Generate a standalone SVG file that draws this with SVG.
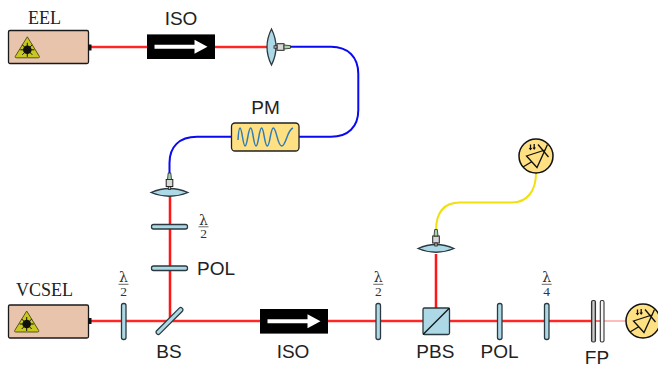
<svg xmlns="http://www.w3.org/2000/svg" width="658" height="366" viewBox="0 0 658 366">
<style>
.halo{fill:none;stroke:#ff9a9a;stroke-width:3.2}
.beam{fill:none;stroke:#ff0000;stroke-width:1.7}
.fb{fill:none;stroke:#0a0af0;stroke-width:2}
.fy{fill:none;stroke:#f0e010;stroke-width:2}
.opt{fill:#add8e6;stroke:#2b3a40;stroke-width:1.3}
.las{fill:#e8c4ad;stroke:#1a1a1a;stroke-width:1.3}
.t{font-family:"Liberation Sans",Arial,sans-serif;font-size:19px;fill:#222;text-anchor:middle}
.s{font-family:"Liberation Serif","Times New Roman",serif;font-size:18px;fill:#222;text-anchor:middle}
.f{font-family:"Liberation Serif","Times New Roman",serif;font-size:13.500px;fill:#333;text-anchor:middle}
.l{font-family:"DejaVu Serif",serif;font-size:14px;fill:#333;text-anchor:middle}
.bar{stroke:#444;stroke-width:0.800}
.det{fill:#ffe083;stroke:#111;stroke-width:1.5}
.dl{fill:none;stroke:#111;stroke-width:1.3}
</style>
<defs>
<linearGradient id="fpg" x1="0" x2="1" y1="0" y2="0"><stop offset="0" stop-color="#777"/><stop offset="0.5" stop-color="#ccc"/><stop offset="1" stop-color="#777"/></linearGradient>
<g id="warn">
<path d="M0,-11.500 L12,8 Q12.500,9.500 11,9.500 L-11,9.500 Q-12.500,9.500 -12,8 Z" fill="#c8c81e" stroke="#55551a" stroke-width="1"/>
<circle cx="0" cy="1.500" r="4.300" fill="#111"/>
<path d="M-7,1.500H7M0,-5.500V8.500M-5,-3.500L5,6.500M5,-3.500L-5,6.500" stroke="#111" stroke-width="1"/>
</g>
<g id="iso">
<rect x="-34" y="-12.300" width="68" height="24.600" fill="#000"/>
<path d="M-26.500,-2H13.500V-7L26.500,0L13.500,7V2H-26.500Z" fill="#fff"/>
</g>
<g id="coll">
<rect x="-3.300" y="-3.500" width="6.600" height="7" fill="#d8d8d8" stroke="#222" stroke-width="1"/>
<rect x="-1.200" y="3.500" width="2.400" height="3" fill="#bbb" stroke="#222" stroke-width="0.800"/>
<path d="M-2,-3.500L-1.300,-10H1.300L2,-3.500Z" fill="#a9d3a9" stroke="#222" stroke-width="0.800"/>
</g>
<g id="pd">
<circle r="17" class="det"/>
<path class="dl" d="M-9.500,0L9,-6L1,11.500ZM-13,11L-4.300,5.700M9,-6L11.500,-11.500M2,-11.500L12.500,1"/>
<path class="dl" d="M-5.500,-11.500V-7M-1.800,-12V-7.500"/>
<path d="M-7.300,-8L-5.500,-5.500L-3.700,-8ZM-3.600,-8.500L-1.800,-6L0,-8.500Z" fill="#111"/>
</g>
</defs>

<g id="connectors">
<path class="halo" d="M91,47H268M170,196V321M91,321H592M436,254V308"/>
<path class="beam" d="M91,47H268M170,196V321M91,321H592M436,254V308"/>
<path d="M595,321H601" fill="none" stroke="#ff7070" stroke-width="2"/>
<path d="M604,321H627" fill="none" stroke="#ffbcbc" stroke-width="2"/>
<path class="fb" d="M290,46.800H331C348,46.800 358.300,57 358.300,74V110C358.300,127 348,136.800 331,136.800H299M232,136.800H197C179,136.800 169.500,147 169.500,163V174"/>
<path class="fy" d="M436,231C436,214 442,202.500 460,202.500H512C527,202.500 536,191 536,173"/>
</g>

<g id="eel-laser"><rect class="las" x="8.500" y="30.500" width="80" height="33" rx="1.500"/><rect x="88" y="44.500" width="3.500" height="6" fill="#111"/><use href="#warn" x="27.300" y="48.300"/><text class="s" x="44.500" y="24">EEL</text></g>
<g id="iso-top"><use href="#iso" x="181" y="46.700"/><text class="t" x="181" y="25">ISO</text></g>
<g id="lens-top"><path class="opt" d="M271.500,29Q280.500,47 271.500,65Q262.500,47 271.500,29Z" stroke-width="1.200"/><use href="#coll" transform="translate(280.500,47) rotate(90)"/></g>
<g id="pm"><rect x="231.500" y="123" width="67.500" height="28" rx="3.500" fill="#ffe083" stroke="#222" stroke-width="1.300"/><path d="M238,140C238.500,131 239,128 240,128C242,128 243,146 245,146C247.500,146 248,128 250.700,128C253,128 253.500,146 256,146C258.500,146 259,128 261.700,128C264,128 264.500,146 267.300,146C270,146 270.500,128 273.300,128C276.500,128 277.500,146 281.700,146C286,146 287,130 293,128" fill="none" stroke="#2f7cb8" stroke-width="1.500"/><text class="t" x="265.500" y="114.300">PM</text></g>
<g id="lens-left"><path class="opt" d="M151,192.500Q169.500,184.500 188,192.500Q169.500,200 151,192.500Z"/><use href="#coll" transform="translate(169.500,183)"/></g>
<g id="hwp-left"><rect class="opt" x="151.500" y="224.500" width="36" height="4.500" rx="2"/><text class="l" x="203.500" y="225">λ</text><path class="bar" d="M198.500,226.800H208.500"/><text class="f" x="203.500" y="238">2</text></g>
<g id="pol-left"><rect class="opt" x="151.500" y="266" width="36" height="4.500" rx="2"/><text class="t" x="216" y="275">POL</text></g>
<g id="vcsel"><rect class="las" x="8.500" y="305" width="80" height="33" rx="1.500"/><rect x="88" y="318" width="3.500" height="6" fill="#111"/><use href="#warn" x="26.700" y="322.500"/><text class="s" x="44.500" y="296">VCSEL</text></g>
<g id="hwp-1"><rect class="opt" x="121.500" y="303.500" width="4.500" height="36" rx="2"/><text class="l" x="123.500" y="282">λ</text><path class="bar" d="M118.500,284.300H128.500"/><text class="f" x="123.500" y="296">2</text></g>
<g id="bs"><rect class="opt" x="-18" y="-2.200" width="36" height="4.400" rx="2" transform="translate(169.500,321) rotate(-45)"/><text class="t" x="169" y="357.500">BS</text></g>
<g id="iso-bottom"><use href="#iso" x="294" y="321.300"/><text class="t" x="293" y="357.500">ISO</text></g>
<g id="hwp-2"><rect class="opt" x="376" y="303.500" width="4.500" height="36" rx="2"/><text class="l" x="378.300" y="282">λ</text><path class="bar" d="M373.300,284.300H383.300"/><text class="f" x="378.300" y="296">2</text></g>
<g id="pbs"><rect class="opt" x="423" y="308" width="26.500" height="26.500" rx="1.500"/><path d="M423,334.500L449.500,308" stroke="#111" stroke-width="1.200"/><text class="t" x="435.300" y="357.500">PBS</text></g>
<g id="lens-right"><path class="opt" d="M418,248.500Q436,240.500 454,248.500Q436,256 418,248.500Z"/><use href="#coll" transform="translate(436,239.500)"/></g>
<g id="det-top"><use href="#pd" x="536" y="156"/></g>
<g id="pol-right"><rect class="opt" x="497.500" y="303.500" width="4.500" height="36" rx="2"/><text class="t" x="499.500" y="357.500">POL</text></g>
<g id="qwp"><rect class="opt" x="544.500" y="303.500" width="4.500" height="36" rx="2"/><text class="l" x="546.700" y="282">λ</text><path class="bar" d="M541.700,284.300H551.700"/><text class="f" x="546.700" y="296">4</text></g>
<g id="fp"><rect x="591.500" y="300.500" width="4" height="41.500" rx="1.500" fill="url(#fpg)" stroke="#333" stroke-width="1.100"/><rect x="600.300" y="300.500" width="3.700" height="41.500" rx="1.500" fill="#f6f6f6" stroke="#333" stroke-width="1.100"/><text class="t" x="597" y="364">FP</text></g>
<g id="det-right"><use href="#pd" x="643" y="321"/></g>
</svg>
